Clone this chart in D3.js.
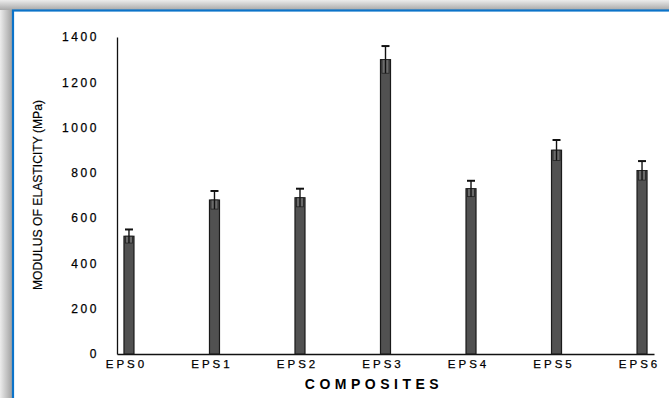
<!DOCTYPE html>
<html>
<head>
<meta charset="utf-8">
<script src="https://cdn.jsdelivr.net/npm/d3@7/dist/d3.min.js"></script>
<style>
  html, body { margin: 0; padding: 0; background: #fff; }
  svg { display: block; }
  text { font-family: "Liberation Sans", Arial, sans-serif; fill: #000; }
</style>
</head>
<body>
<svg id="chart" width="669" height="398"></svg>
<script>
// Modulus of elasticity of the EPS composites (MPa), with standard deviations
const categories = ["EPS0", "EPS1", "EPS2", "EPS3", "EPS4", "EPS5", "EPS6"];
const modulus = [520, 680, 690, 1300, 730, 900, 810];
const deviation = [30, 40, 40, 60, 35, 45, 42];
const yTicks = [0, 200, 400, 600, 800, 1000, 1200, 1400];

const W = 669, H = 398;
const plot = { left: 117, right: 654, top: 37, bottom: 354 };

const svg = d3.select("#chart");

// Frame with soft shadow on its top and left edges
const defs = svg.append("defs");
const gl = defs.append("linearGradient").attr("id", "shadeL").attr("x1", 0).attr("x2", 1).attr("y1", 0).attr("y2", 0);
gl.append("stop").attr("offset", "0%").attr("stop-color", "#ececec");
gl.append("stop").attr("offset", "100%").attr("stop-color", "#a2a2a2");
const gt = defs.append("linearGradient").attr("id", "shadeT").attr("x1", 0).attr("x2", 0).attr("y1", 0).attr("y2", 1);
gt.append("stop").attr("offset", "0%").attr("stop-color", "#ececec");
gt.append("stop").attr("offset", "100%").attr("stop-color", "#a8a8a8");

svg.append("rect").attr("x", 0).attr("y", 0).attr("width", W).attr("height", H).attr("fill", "#fff");
svg.append("rect").attr("x", 0).attr("y", 0).attr("width", 12).attr("height", H).attr("fill", "url(#shadeL)");
svg.append("rect").attr("x", 0).attr("y", 0).attr("width", W).attr("height", 10).attr("fill", "url(#shadeT)");
svg.append("rect").attr("x", 13).attr("y", 10.5).attr("width", W + 20).attr("height", H + 20)
  .attr("fill", "#fff").attr("stroke", "#0b73c9").attr("stroke-width", 2.2);

// Scales
const x = d3.scalePoint().domain(categories).range([plot.left, plot.right]).padding(0.14);
const y = d3.scaleLinear().domain([0, 1400]).range([plot.bottom, plot.top]);

// Y axis
const yAxis = svg.append("g").attr("transform", `translate(${plot.left},0)`)
  .call(d3.axisLeft(y).tickValues(yTicks).tickSize(0).tickPadding(18).tickFormat(d3.format("d")));
yAxis.select(".domain").attr("stroke", "#111").attr("stroke-width", 1.3);
yAxis.selectAll("text")
  .style("font-size", "12px").style("letter-spacing", "2.6px")
  .style("font-family", "'Liberation Sans', Arial, sans-serif").attr("fill", "#000")
  .attr("stroke", "#000").attr("stroke-width", 0.25);

// X axis
const xAxis = svg.append("g").attr("transform", `translate(0,${plot.bottom})`)
  .call(d3.axisBottom(x).tickSize(0).tickPadding(6));
xAxis.select(".domain").attr("stroke", "#111").attr("stroke-width", 1.3);
xAxis.selectAll("text")
  .style("font-size", "11.5px").style("letter-spacing", "3px")
  .style("font-family", "'Liberation Sans', Arial, sans-serif").attr("fill", "#000")
  .attr("stroke", "#000").attr("stroke-width", 0.25)
  .attr("dx", "-3px");

// Bars
const barW = 10;
const data = categories.map((c, i) => ({ c, v: modulus[i], e: deviation[i] }));

svg.append("g").selectAll("rect").data(data).join("rect")
  .attr("x", d => x(d.c) - barW / 2)
  .attr("y", d => y(d.v))
  .attr("width", barW)
  .attr("height", d => y(0) - y(d.v))
  .attr("fill", "#515151")
  .attr("stroke", "#1a1a1a")
  .attr("stroke-width", 1.2);

// Lower half of each error range, shown as a lighter band inside the bar
svg.append("g").selectAll("rect").data(data).join("rect")
  .attr("x", d => x(d.c) - barW / 2 + 1.5)
  .attr("y", d => y(d.v))
  .attr("width", barW - 3)
  .attr("height", d => y(d.v - d.e) - y(d.v))
  .attr("fill", "#6a6a6a")
  .attr("stroke", "#222")
  .attr("stroke-width", 0.8);

// Error bars
const err = svg.append("g").attr("stroke", "#111").attr("stroke-width", 1.4);
err.selectAll("line.stem").data(data).join("line").attr("class", "stem")
  .attr("x1", d => x(d.c)).attr("x2", d => x(d.c))
  .attr("y1", d => y(d.v + d.e)).attr("y2", d => y(d.v - d.e));
err.selectAll("line.capTop").data(data).join("line").attr("class", "capTop")
  .attr("x1", d => x(d.c) - 4).attr("x2", d => x(d.c) + 4)
  .attr("y1", d => y(d.v + d.e)).attr("y2", d => y(d.v + d.e))
  .attr("stroke-width", 2);

// Axis titles
svg.append("text")
  .attr("x", 374).attr("y", 389)
  .attr("text-anchor", "middle")
  .style("font-size", "14px").style("font-weight", "bold").style("letter-spacing", "4.5px")
  .text("COMPOSITES");

svg.append("text")
  .attr("transform", "translate(42,195) rotate(-90)")
  .attr("text-anchor", "middle")
  .attr("textLength", 190).attr("lengthAdjust", "spacingAndGlyphs")
  .attr("stroke", "#000").attr("stroke-width", 0.2)
  .style("font-size", "12.5px")
  .text("MODULUS OF ELASTICITY (MPa)");
</script>
</body>
</html>
